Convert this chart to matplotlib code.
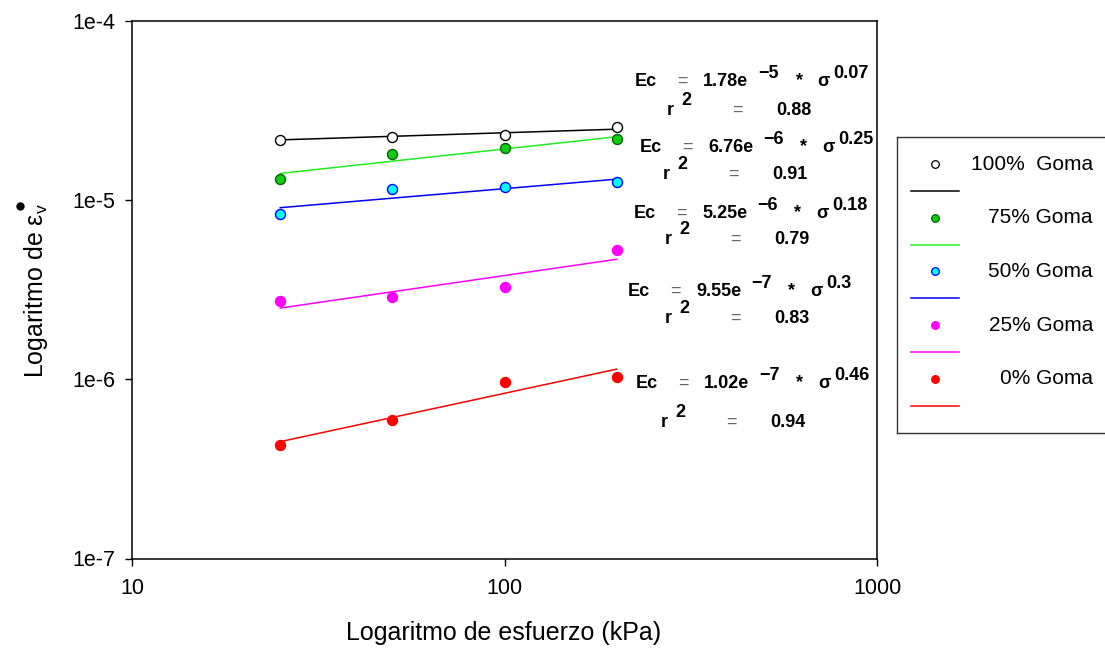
import matplotlib
matplotlib.use("Agg")
import matplotlib.pyplot as plt
from matplotlib.lines import Line2D
from matplotlib.ticker import FixedLocator, FixedFormatter, NullLocator

plt.rcParams["font.family"] = ["Liberation Sans", "DejaVu Sans"]
plt.rcParams["mathtext.fontset"] = "custom"
plt.rcParams["mathtext.rm"] = "Liberation Sans"
plt.rcParams["mathtext.it"] = "Liberation Sans:italic"

# data
esfuerzo = [25, 50, 100, 200]
series_names = ["100%  Goma", "75% Goma", "50% Goma", "25% Goma", "0% Goma"]
goma_100 = [2.17e-5, 2.26e-5, 2.31e-5, 2.55e-5]
goma_75 = [1.32e-5, 1.81e-5, 1.96e-5, 2.20e-5]
goma_50 = [8.38e-6, 1.15e-5, 1.19e-5, 1.26e-5]
goma_25 = [2.74e-6, 2.89e-6, 3.29e-6, 5.27e-6]
goma_0 = [4.31e-7, 5.93e-7, 9.71e-7, 1.035e-6]

# fitted regression lines, values at sigma = 25 and 200 kPa
fit_x = [25, 200]
fit_100 = [2.17e-5, 2.49e-5]
fit_75 = [1.41e-5, 2.26e-5]
fit_50 = [9.08e-6, 1.31e-5]
fit_25 = [2.50e-6, 4.68e-6]
fit_0 = [4.49e-7, 1.14e-6]

# power-law fit labels Ec = a * 10^e * sigma^b
coef_a = [1.78, 6.76, 5.25, 9.55, 1.02]
coef_exp = [-5, -6, -6, -7, -7]
coef_b = [0.07, 0.25, 0.18, 0.3, 0.46]
r2 = [0.88, 0.91, 0.79, 0.83, 0.94]

y_ticks = [1e-7, 1e-6, 1e-5, 1e-4]
y_tick_labels = ["1e-7", "1e-6", "1e-5", "1e-4"]
x_ticks = [10, 100, 1000]
x_tick_labels = ["10", "100", "1000"]

series = [goma_100, goma_75, goma_50, goma_25, goma_0]
fits = [fit_100, fit_75, fit_50, fit_25, fit_0]
face = ["white", "#11cc11", "#00ffff", "#ff00ff", "#ff0000"]
edge = ["black", "#006400", "#0000ff", "#ff00ff", "#ff0000"]
line_col = ["black", "#22ee22", "#0000ff", "#ff00ff", "#ff0000"]

W, H = 1105, 648
fig = plt.figure(figsize=(W / 100, H / 100), dpi=100)


def px(x, y):
    return x / W, 1 - y / H


ax = fig.add_axes([132 / W, 1 - 558.5 / H, (877 - 132) / W, (558.5 - 21) / H])
ax.set_xscale("log")
ax.set_yscale("log")
ax.set_xlim(10, 1000)
ax.set_ylim(1e-7, 1e-4)

for i in range(5):
    ax.plot(fit_x, fits[i], color=line_col[i], lw=1.1, zorder=2)
    ax.plot(esfuerzo, series[i], "o", ms=7.2, mfc=face[i], mec=edge[i], mew=1.0, zorder=3)

ax.xaxis.set_major_locator(FixedLocator(x_ticks))
ax.xaxis.set_major_formatter(FixedFormatter(x_tick_labels))
ax.yaxis.set_major_locator(FixedLocator(y_ticks))
ax.yaxis.set_major_formatter(FixedFormatter(y_tick_labels))
ax.xaxis.set_minor_locator(NullLocator())
ax.yaxis.set_minor_locator(NullLocator())
ax.tick_params(direction="out", length=5, width=1, labelsize=15.5)
ax.tick_params(axis="x", pad=9)
ax.tick_params(axis="y", pad=7)
for s in ax.spines.values():
    s.set_linewidth(1.1)

fig.text(*px(504, 633), "Logaritmo de esfuerzo (kPa)", fontsize=18, ha="center", va="center")
fig.text(*px(36, 291), "Logaritmo de \u03b5$_{\\mathrm{v}}$", fontsize=18,
         rotation=90, ha="center", va="center")
# the "dot" over epsilon (rate of strain)
fig.add_artist(Line2D([20 / W], [1 - 206 / H], marker="o", ms=5, color="black",
                      transform=fig.transFigure))

# equation annotations (pixel positions: Ec left, Ec baseline, r left, r baseline)
eq_pos = [(635, 86, 667, 115), (640, 152, 663, 179), (634, 218, 665, 244),
          (628, 296, 665, 323), (636, 388, 661, 427)]
bold = dict(fontsize=13, fontweight="bold", va="baseline")
eq_sign = dict(fontsize=13, color="#666666", va="baseline", ha="center")
for i, (ex, ey, rx, ry) in enumerate(eq_pos):
    fig.text(*px(ex, ey), "Ec", ha="left", **bold)
    fig.text(*px(ex + 47, ey), "=", **eq_sign)
    fig.text(*px(ex + 68, ey), f"{coef_a[i]:.2f}e", ha="left", **bold)
    fig.text(*px(ex + 123, ey - 8), "\u2212" + str(-coef_exp[i]), ha="left", **bold)
    fig.text(*px(ex + 164, ey - 1), "*", ha="center", **bold)
    fig.text(*px(ex + 188, ey), "\u03c3", ha="center", **bold)
    fig.text(*px(ex + 198, ey - 8), str(coef_b[i]), ha="left", **bold)
    fig.text(*px(rx, ry), "r", ha="left", **bold)
    fig.text(*px(rx + 14, ry - 10), "2", ha="left", **bold)
    fig.text(*px(rx + 70, ry), "=", **eq_sign)
    fig.text(*px(rx + 127, ry), f"{r2[i]:.2f}", ha="center", **bold)

# legend box
lg = fig.add_axes([896.5 / W, 1 - 433 / H, (1112 - 896.5) / W, (433 - 137) / H])
lg.set_xlim(896.5, 1112)
lg.set_ylim(433, 137)
lg.set_xticks([])
lg.set_yticks([])
lg.spines["right"].set_visible(False)
for s in ["left", "top", "bottom"]:
    lg.spines[s].set_color("#333333")
    lg.spines[s].set_linewidth(1.0)
for i in range(5):
    ym = 164.3 + 53.6 * i
    lg.plot([935], [ym], "o", ms=5.5, mfc=face[i], mec=edge[i], mew=0.9)
    lg.plot([911, 959], [ym + 27, ym + 27], color=line_col[i], lw=1.1)
    lg.text(1093, ym, series_names[i], fontsize=15, ha="right", va="center")

fig.savefig("out.png", dpi=100)
